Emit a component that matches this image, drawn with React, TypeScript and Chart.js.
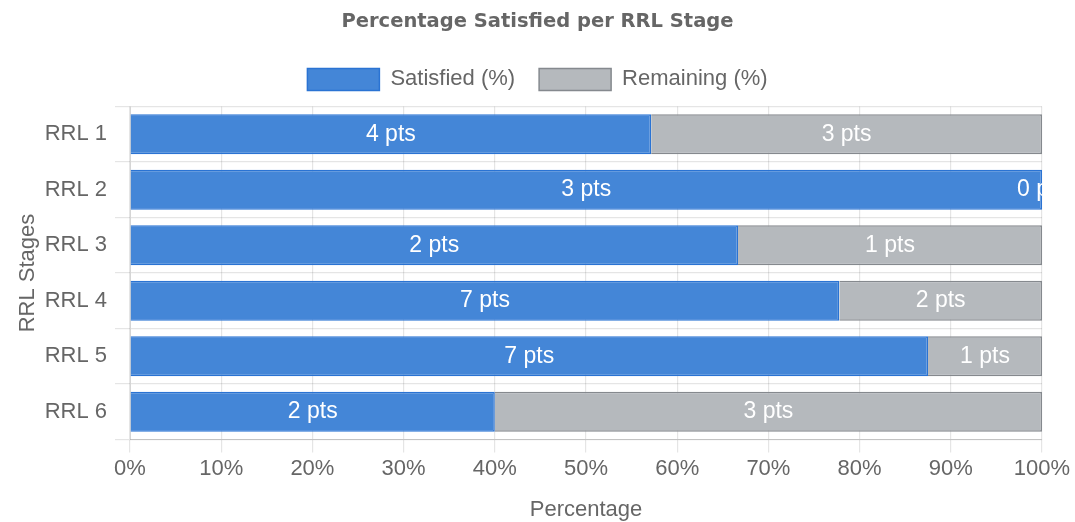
import React, { useEffect, useRef } from "react";
import { Chart, registerables } from "chart.js";

Chart.register(...registerables);

// RRL stages and their point tallies
const stages = ["RRL 1", "RRL 2", "RRL 3", "RRL 4", "RRL 5", "RRL 6"];
const satisfiedPts = [4, 3, 2, 7, 7, 2];
const remainingPts = [3, 0, 1, 2, 1, 3];
const xTickValues = [0, 10, 20, 30, 40, 50, 60, 70, 80, 90, 100];

const pct = (part: number, i: number) =>
  (part / (satisfiedPts[i] + remainingPts[i])) * 100;

const satisfiedPct = satisfiedPts.map((v, i) => pct(v, i));
const remainingPct = remainingPts.map((v, i) => pct(v, i));

const FONT = "'Liberation Sans', Arial, Helvetica, sans-serif";
const TITLE_FONT = "'DejaVu Sans', 'Liberation Sans', sans-serif";
const TEXT = "#666666";
const SIZE = 22;

// Writes "N pts" in the middle of every bar segment, clipped to the plot area
const pointsLabelPlugin = {
  id: "pointsLabels",
  afterDraw(chart: any) {
    const { ctx, chartArea } = chart;
    const ptsByDataset = [satisfiedPts, remainingPts];
    ctx.save();
    ctx.beginPath();
    ctx.rect(chartArea.left, chartArea.top, chartArea.right - chartArea.left, chartArea.bottom - chartArea.top);
    ctx.clip();
    ctx.fillStyle = "#ffffff";
    ctx.font = `23px ${FONT}`;
    ctx.textAlign = "center";
    ctx.textBaseline = "middle";
    chart.data.datasets.forEach((_ds: any, di: number) => {
      const meta = chart.getDatasetMeta(di);
      meta.data.forEach((bar: any, i: number) => {
        const cx = (bar.x + bar.base) / 2;
        ctx.fillText(`${ptsByDataset[di][i]} pts`, cx, bar.y);
      });
    });
    ctx.restore();
  },
};

// Leaves a little extra room between the legend and the plot
const legendGapPlugin = {
  id: "legendGap",
  beforeInit(chart: any) {
    const legend = chart.legend;
    if (!legend) return;
    const originalFit = legend.fit;
    legend.fit = function fit() {
      originalFit.call(this);
      this.height += 6;
    };
  },
};

export default function App() {
  const canvasRef = useRef<HTMLCanvasElement | null>(null);

  useEffect(() => {
    document.body.style.margin = "0";
    const canvas = canvasRef.current;
    if (!canvas) return;
    const chart = new Chart(canvas, {
      type: "bar",
      data: {
        labels: stages,
        datasets: [
          {
            label: "Satisfied (%)",
            data: satisfiedPct,
            backgroundColor: "#4486d7",
            borderColor: "#2a73d3",
            borderWidth: 1.5,
          },
          {
            label: "Remaining (%)",
            data: remainingPct,
            backgroundColor: "#b5b9bd",
            borderColor: "#85898e",
            borderWidth: 1.5,
          },
        ],
      },
      options: {
        indexAxis: "y",
        responsive: false,
        animation: false,
        maintainAspectRatio: false,
        layout: { padding: { left: 33, right: 33, top: 0, bottom: 1 } },
        plugins: {
          title: {
            display: true,
            text: "Percentage Satisfied per RRL Stage",
            color: TEXT,
            font: { family: TITLE_FONT, size: 19.5, weight: "bold" },
            padding: { top: 10, bottom: 11 },
          },
          legend: {
            position: "top",
            labels: {
              color: TEXT,
              font: { family: FONT, size: SIZE },
              boxWidth: 72,
              boxHeight: 22,
              padding: 24,
            },
          },
          tooltip: { enabled: false },
        },
        scales: {
          x: {
            stacked: true,
            min: 0,
            max: 100,
            z: 1,
            afterBuildTicks: (axis: any) => {
              axis.ticks = xTickValues.map((v) => ({ value: v }));
            },
            ticks: {
              color: TEXT,
              font: { family: FONT, size: SIZE },
              padding: 3,
              callback: (v: any) => `${v}%`,
            },
            grid: { color: "rgba(0,0,0,0.1)", tickLength: 13, lineWidth: 1.2 },
            border: { color: "rgba(0,0,0,0.15)" },
            title: {
              display: true,
              text: "Percentage",
              color: TEXT,
              font: { family: FONT, size: SIZE, lineHeight: 1 },
              padding: { top: 14, bottom: 0 },
            },
          },
          y: {
            stacked: true,
            afterFit: (axis: any) => {
              axis.width = 97;
            },
            ticks: {
              color: TEXT,
              font: { family: FONT, size: SIZE },
              padding: 8,
            },
            grid: { color: "rgba(0,0,0,0.1)", tickLength: 15, lineWidth: 1.2 },
            border: { color: "rgba(0,0,0,0.15)" },
            title: {
              display: true,
              text: "RRL Stages",
              color: TEXT,
              font: { family: FONT, size: SIZE },
              padding: { top: -18, bottom: 0 },
            },
          },
        },
      },
      plugins: [pointsLabelPlugin, legendGapPlugin],
    } as any);
    return () => chart.destroy();
  }, []);

  return (
    <div style={{ width: 1075, height: 522, background: "#ffffff" }}>
      <canvas ref={canvasRef} width={1075} height={522} style={{ display: "block" }} />
    </div>
  );
}
